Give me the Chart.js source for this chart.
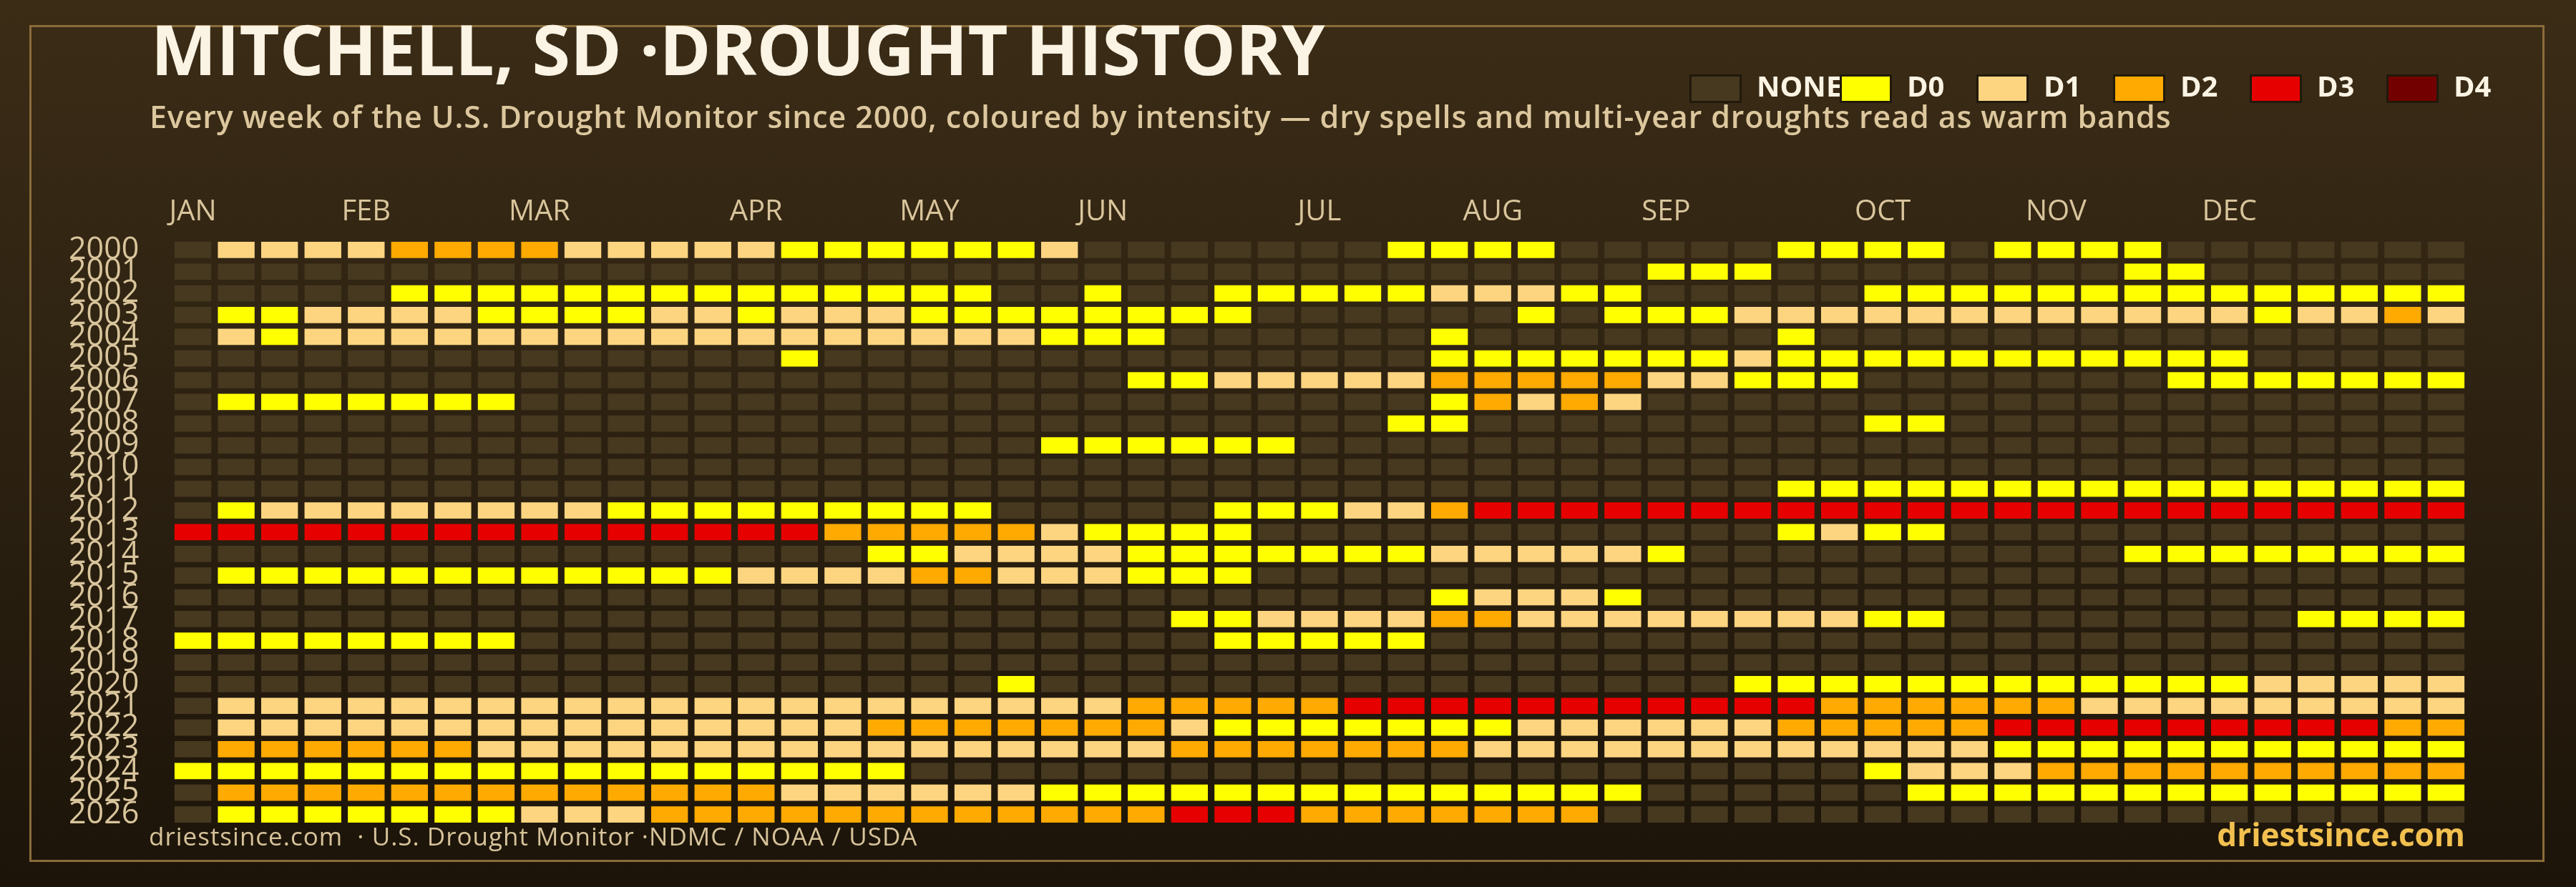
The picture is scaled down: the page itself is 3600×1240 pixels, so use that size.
<!DOCTYPE html>
<html>
<head>
<meta charset="utf-8">
<script src="https://cdn.jsdelivr.net/npm/chart.js@4.4.1/dist/chart.umd.min.js"></script>
<style>
  html, body { margin:0; padding:0; width:3600px; height:1240px; overflow:hidden;
    background: linear-gradient(180deg, #3b2c16 0%, #2c2111 50%, #1c1409 100%); }
  #frame { position:absolute; left:41px; top:35px; width:3509px; height:1164px;
    border:3px solid #8a6c3a; box-sizing:content-box; }
  #c { position:absolute; left:0; top:0; width:3600px; height:1240px; }
  .txt { position:absolute; white-space:pre; font-family:'Open Sans', sans-serif; line-height:1; }
  #title { left:211px; top:19px; font-size:97px; font-weight:700; color:#fbf3e3; }
  #subtitle { left:209px; top:141px; font-size:43px; font-weight:600; letter-spacing:0.87px; color:#dcc79e; }
  #legend { position:absolute; left:2361px; top:100px; height:48px; display:flex; }
  .li { display:flex; align-items:flex-start; width:191px; }
  .li:first-child { width:210px; }
  .sw { width:67px; height:34px; border:3px solid #21190b; margin-top:4px; margin-right:21px; flex:none; }
  .lt { font-family:'Open Sans', sans-serif; font-weight:700; font-size:40px; line-height:40px; color:#fbf3e3; white-space:pre; }
  #footL { left:208px; top:1151px; font-size:35px; font-weight:400; letter-spacing:1px; color:#d7c39a; }
  #footR { right:155px; top:1144px; font-size:44px; font-weight:700; color:#f2c04f; }
</style>
</head>
<body>
<div id="frame"></div>
<canvas id="c" width="3600" height="1240"></canvas>
<div id="title" class="txt">MITCHELL, SD ·DROUGHT HISTORY</div>
<div id="subtitle" class="txt">Every week of the U.S. Drought Monitor since 2000, coloured by intensity — dry spells and multi-year droughts read as warm bands</div>
<div id="legend"></div>
<div id="footL" class="txt">driestsince.com  · U.S. Drought Monitor ·NDMC / NOAA / USDA</div>
<div id="footR" class="txt">driestsince.com</div>
<script>
// ---- data ----
// drought category per week: -1 = none, 0 = D0, 1 = D1, 2 = D2, 3 = D3, 4 = D4
const years = [2000,2001,2002,2003,2004,2005,2006,2007,2008,2009,2010,2011,2012,2013,
               2014,2015,2016,2017,2018,2019,2020,2021,2022,2023,2024,2025,2026];
const weekLabels = [1,2,3,4,5,6,7,8,9,10,11,12,13,14,15,16,17,18,19,20,21,22,23,24,25,26,27,
                    28,29,30,31,32,33,34,35,36,37,38,39,40,41,42,43,44,45,46,47,48,49,50,51,52,53];
const monthNames = ['JAN','FEB','MAR','APR','MAY','JUN','JUL','AUG','SEP','OCT','NOV','DEC'];
const monthWeekIndex = [0,4,8,13,17,21,26,30,34,39,43,47];
const levelNames = ['NONE','D0','D1','D2','D3','D4'];
const levelColors = ['#473920','#ffff00','#fdd581','#ffaa00','#e60000','#730000'];

const d2000 = [-1,1,1,1,1,2,2,2,2,1, 1,1,1,1,0,0,0,0,0,0, 1,-1,-1,-1,-1,-1,-1,-1,0,0, 0,0,-1,-1,-1,-1,-1,0,0,0, 0,-1,0,0,0,0,-1,-1,-1,-1, -1,-1,-1];
const d2001 = [-1,-1,-1,-1,-1,-1,-1,-1,-1,-1, -1,-1,-1,-1,-1,-1,-1,-1,-1,-1, -1,-1,-1,-1,-1,-1,-1,-1,-1,-1, -1,-1,-1,-1,0,0,0,-1,-1,-1, -1,-1,-1,-1,-1,0,0,-1,-1,-1, -1,-1,-1];
const d2002 = [-1,-1,-1,-1,-1,0,0,0,0,0, 0,0,0,0,0,0,0,0,0,-1, -1,0,-1,-1,0,0,0,0,0,1, 1,1,0,0,-1,-1,-1,-1,-1,0, 0,0,0,0,0,0,0,0,0,0, 0,0,0];
const d2003 = [-1,0,0,1,1,1,1,0,0,0, 0,1,1,0,1,1,1,0,0,0, 0,0,0,0,0,-1,-1,-1,-1,-1, -1,0,-1,0,0,0,1,1,1,1, 1,1,1,1,1,1,1,1,0,1, 1,2,1];
const d2004 = [-1,1,0,1,1,1,1,1,1,1, 1,1,1,1,1,1,1,1,1,1, 0,0,0,-1,-1,-1,-1,-1,-1,0, -1,-1,-1,-1,-1,-1,-1,0,-1,-1, -1,-1,-1,-1,-1,-1,-1,-1,-1,-1, -1,-1,-1];
const d2005 = [-1,-1,-1,-1,-1,-1,-1,-1,-1,-1, -1,-1,-1,-1,0,-1,-1,-1,-1,-1, -1,-1,-1,-1,-1,-1,-1,-1,-1,0, 0,0,0,0,0,0,1,0,0,0, 0,0,0,0,0,0,0,0,-1,-1, -1,-1,-1];
const d2006 = [-1,-1,-1,-1,-1,-1,-1,-1,-1,-1, -1,-1,-1,-1,-1,-1,-1,-1,-1,-1, -1,-1,0,0,1,1,1,1,1,2, 2,2,2,2,1,1,0,0,0,-1, -1,-1,-1,-1,-1,-1,0,0,0,0, 0,0,0];
const d2007 = [-1,0,0,0,0,0,0,0,-1,-1, -1,-1,-1,-1,-1,-1,-1,-1,-1,-1, -1,-1,-1,-1,-1,-1,-1,-1,-1,0, 2,1,2,1,-1,-1,-1,-1,-1,-1, -1,-1,-1,-1,-1,-1,-1,-1,-1,-1, -1,-1,-1];
const d2008 = [-1,-1,-1,-1,-1,-1,-1,-1,-1,-1, -1,-1,-1,-1,-1,-1,-1,-1,-1,-1, -1,-1,-1,-1,-1,-1,-1,-1,0,0, -1,-1,-1,-1,-1,-1,-1,-1,-1,0, 0,-1,-1,-1,-1,-1,-1,-1,-1,-1, -1,-1,-1];
const d2009 = [-1,-1,-1,-1,-1,-1,-1,-1,-1,-1, -1,-1,-1,-1,-1,-1,-1,-1,-1,-1, 0,0,0,0,0,0,-1,-1,-1,-1, -1,-1,-1,-1,-1,-1,-1,-1,-1,-1, -1,-1,-1,-1,-1,-1,-1,-1,-1,-1, -1,-1,-1];
const d2010 = [-1,-1,-1,-1,-1,-1,-1,-1,-1,-1, -1,-1,-1,-1,-1,-1,-1,-1,-1,-1, -1,-1,-1,-1,-1,-1,-1,-1,-1,-1, -1,-1,-1,-1,-1,-1,-1,-1,-1,-1, -1,-1,-1,-1,-1,-1,-1,-1,-1,-1, -1,-1,-1];
const d2011 = [-1,-1,-1,-1,-1,-1,-1,-1,-1,-1, -1,-1,-1,-1,-1,-1,-1,-1,-1,-1, -1,-1,-1,-1,-1,-1,-1,-1,-1,-1, -1,-1,-1,-1,-1,-1,-1,0,0,0, 0,0,0,0,0,0,0,0,0,0, 0,0,0];
const d2012 = [-1,0,1,1,1,1,1,1,1,1, 0,0,0,0,0,0,0,0,0,-1, -1,-1,-1,-1,0,0,0,1,1,2, 3,3,3,3,3,3,3,3,3,3, 3,3,3,3,3,3,3,3,3,3, 3,3,3];
const d2013 = [3,3,3,3,3,3,3,3,3,3, 3,3,3,3,3,2,2,2,2,2, 1,0,0,0,0,-1,-1,-1,-1,-1, -1,-1,-1,-1,-1,-1,-1,0,1,0, 0,-1,-1,-1,-1,-1,-1,-1,-1,-1, -1,-1,-1];
const d2014 = [-1,-1,-1,-1,-1,-1,-1,-1,-1,-1, -1,-1,-1,-1,-1,-1,0,0,1,1, 1,1,0,0,0,0,0,0,0,1, 1,1,1,1,0,-1,-1,-1,-1,-1, -1,-1,-1,-1,-1,0,0,0,0,0, 0,0,0];
const d2015 = [-1,0,0,0,0,0,0,0,0,0, 0,0,0,1,1,1,1,2,2,1, 1,1,0,0,0,-1,-1,-1,-1,-1, -1,-1,-1,-1,-1,-1,-1,-1,-1,-1, -1,-1,-1,-1,-1,-1,-1,-1,-1,-1, -1,-1,-1];
const d2016 = [-1,-1,-1,-1,-1,-1,-1,-1,-1,-1, -1,-1,-1,-1,-1,-1,-1,-1,-1,-1, -1,-1,-1,-1,-1,-1,-1,-1,-1,0, 1,1,1,0,-1,-1,-1,-1,-1,-1, -1,-1,-1,-1,-1,-1,-1,-1,-1,-1, -1,-1,-1];
const d2017 = [-1,-1,-1,-1,-1,-1,-1,-1,-1,-1, -1,-1,-1,-1,-1,-1,-1,-1,-1,-1, -1,-1,-1,0,0,1,1,1,1,2, 2,1,1,1,1,1,1,1,1,0, 0,-1,-1,-1,-1,-1,-1,-1,-1,0, 0,0,0];
const d2018 = [0,0,0,0,0,0,0,0,-1,-1, -1,-1,-1,-1,-1,-1,-1,-1,-1,-1, -1,-1,-1,-1,0,0,0,0,0,-1, -1,-1,-1,-1,-1,-1,-1,-1,-1,-1, -1,-1,-1,-1,-1,-1,-1,-1,-1,-1, -1,-1,-1];
const d2019 = [-1,-1,-1,-1,-1,-1,-1,-1,-1,-1, -1,-1,-1,-1,-1,-1,-1,-1,-1,-1, -1,-1,-1,-1,-1,-1,-1,-1,-1,-1, -1,-1,-1,-1,-1,-1,-1,-1,-1,-1, -1,-1,-1,-1,-1,-1,-1,-1,-1,-1, -1,-1,-1];
const d2020 = [-1,-1,-1,-1,-1,-1,-1,-1,-1,-1, -1,-1,-1,-1,-1,-1,-1,-1,-1,0, -1,-1,-1,-1,-1,-1,-1,-1,-1,-1, -1,-1,-1,-1,-1,-1,0,0,0,0, 0,0,0,0,0,0,0,0,1,1, 1,1,1];
const d2021 = [-1,1,1,1,1,1,1,1,1,1, 1,1,1,1,1,1,1,1,1,1, 1,1,2,2,2,2,2,3,3,3, 3,3,3,3,3,3,3,3,2,2, 2,2,2,2,1,1,1,1,1,1, 1,1,1];
const d2022 = [-1,1,1,1,1,1,1,1,1,1, 1,1,1,1,1,1,2,2,2,2, 2,2,2,1,0,0,0,0,0,0, 0,1,1,1,1,1,1,2,2,2, 2,2,3,3,3,3,3,3,3,3, 3,2,2];
const d2023 = [-1,2,2,2,2,2,2,1,1,1, 1,1,1,1,1,1,1,1,1,1, 1,1,1,2,2,2,2,2,2,2, 1,1,1,1,1,1,1,1,1,1, 1,1,0,0,0,0,0,0,0,0, 0,0,0];
const d2024 = [0,0,0,0,0,0,0,0,0,0, 0,0,0,0,0,0,0,-1,-1,-1, -1,-1,-1,-1,-1,-1,-1,-1,-1,-1, -1,-1,-1,-1,-1,-1,-1,-1,-1,0, 1,1,1,2,2,2,2,2,2,2, 2,2,2];
const d2025 = [-1,2,2,2,2,2,2,2,2,2, 2,2,2,2,1,1,1,1,1,1, 0,0,0,0,0,0,0,0,0,0, 0,0,0,0,-1,-1,-1,-1,-1,-1, 0,0,0,0,0,0,0,0,0,0, 0,0,0];
const d2026 = [-1,0,0,0,0,0,0,0,1,1, 1,2,2,2,2,2,2,2,2,2, 2,2,2,3,3,3,2,2,2,2, 2,2,2,-1,-1,-1,-1,-1,-1,-1, -1,-1,-1,-1,-1,-1,-1,-1,-1,-1, -1,-1,-1];

const drought = [d2000,d2001,d2002,d2003,d2004,d2005,d2006,d2007,d2008,d2009,d2010,d2011,d2012,
                 d2013,d2014,d2015,d2016,d2017,d2018,d2019,d2020,d2021,d2022,d2023,d2024,d2025,d2026];

// ---- styling constants ----
const TEXT = '#d9c59c';
const HALF_ROW = 0.374;   // half cell height, in year units

// ---- legend (HTML) ----
const legendEl = document.getElementById('legend');
levelNames.forEach((name, i) => {
  const item = document.createElement('div'); item.className = 'li';
  const sw = document.createElement('div'); sw.className = 'sw'; sw.style.background = levelColors[i];
  const t = document.createElement('span'); t.className = 'lt'; t.textContent = name;
  item.appendChild(sw); item.appendChild(t); legendEl.appendChild(item);
});

// ---- chart ----
const datasets = years.map((yr, r) => ({
  label: String(yr),
  data: weekLabels.map(() => [yr - HALF_ROW, yr + HALF_ROW]),
  backgroundColor: drought[r].map(v => levelColors[v + 1]),
  borderWidth: 0,
  borderSkipped: false,
  grouped: false,
  barPercentage: 0.848,
  categoryPercentage: 1.0
}));

new Chart(document.getElementById('c'), {
  type: 'bar',
  data: { labels: weekLabels, datasets },
  options: {
    responsive: false,
    animation: false,
    events: [],
    layout: { padding: { left: 0, right: 151.3, top: 0, bottom: 86.3 } },
    plugins: { legend: { display: false }, tooltip: { enabled: false }, title: { display: false } },
    scales: {
      x: {
        type: 'category',
        position: 'top',
        offset: true,
        grid: { display: false, drawTicks: false },
        border: { display: false },
        ticks: {
          autoSkip: false, maxRotation: 0, minRotation: 0, padding: 14,
          color: TEXT,
          font: { family: "'Open Sans', sans-serif", size: 40, weight: '500' },
          callback: (v, i) => { const k = monthWeekIndex.indexOf(i); return k >= 0 ? monthNames[k] : ''; }
        },
        afterFit: s => { s.height = 334.2; }
      },
      y: {
        type: 'linear',
        reverse: true,
        min: 1999.5, max: 2026.5,
        grid: { display: false, drawTicks: false },
        border: { display: false },
        afterBuildTicks: s => { s.ticks = years.map(v => ({ value: v })); },
        ticks: {
          autoSkip: false,
          padding: 45,
          color: TEXT,
          font: { family: "'Open Sans', sans-serif", size: 43, weight: '400' },
          callback: v => String(v)
        },
        afterFit: s => { s.width = 239.3; }
      }
    }
  }
});
</script>
</body>
</html>
